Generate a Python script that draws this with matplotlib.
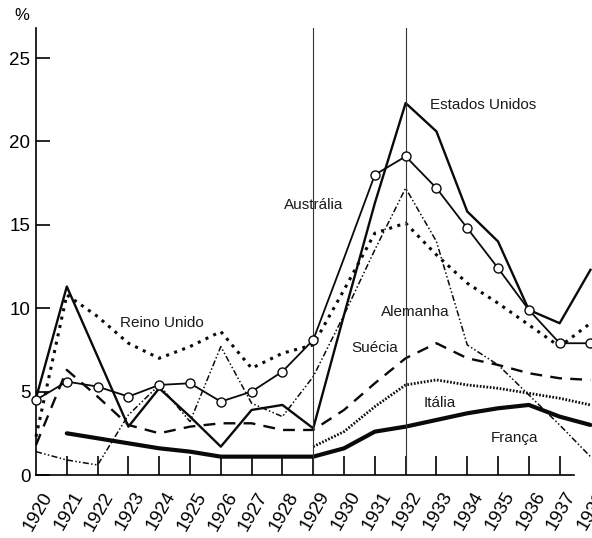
import numpy as np
import matplotlib
matplotlib.use("Agg")
import matplotlib.pyplot as plt
import matplotlib.transforms as mtransforms

# dados (% de desemprego)
anos = list(range(1920, 1939))
estados_unidos = [4.6, 11.3, 7.1, 2.9, 5.2, 3.5, 1.7, 3.9, 4.2, 2.8,
                  9.6, 16.3, 22.3, 20.6, 15.8, 14.0, 9.9, 9.1, 12.3]
australia = [4.5, 5.6, 5.3, 4.7, 5.4, 5.5, 4.4, 5.0, 6.2, 8.1,
             13.0, 18.0, 19.1, 17.2, 14.8, 12.4, 9.9, 7.9, 7.9]
reino_unido = [2.3, 10.8, 9.5, 7.9, 7.0, 7.7, 8.6, 6.4, 7.3, 7.8,
               11.1, 14.5, 15.1, 13.2, 11.5, 10.3, 9.0, 7.7, 9.1]
alemanha = [1.4, 0.9, 0.6, 3.6, 5.4, 3.2, 7.7, 4.3, 3.5, 5.9,
            9.6, 13.5, 17.2, 14.0, 7.8, 6.6, 4.8, 3.0, 1.1]
suecia = [1.8, 6.3, 4.7, 3.0, 2.5, 2.9, 3.1, 3.1, 2.7, 2.7,
          3.9, 5.5, 7.0, 7.9, 7.0, 6.6, 6.1, 5.8, 5.7]
italia = [np.nan] * 9 + [1.7, 2.6, 4.1, 5.4, 5.7, 5.4, 5.2, 4.9, 4.6, 4.2]
franca = [np.nan, 2.5, 2.2, 1.9, 1.6, 1.4, 1.1, 1.1, 1.1, 1.1,
          1.6, 2.6, 2.9, 3.3, 3.7, 4.0, 4.2, 3.5, 3.0]

rotulos = [("Estados Unidos", 1934.5, 22.2), ("Austrália", 1929.0, 16.2),
           ("Reino Unido", 1924.1, 9.1), ("Alemanha", 1932.3, 9.8),
           ("Suécia", 1931.0, 7.6), ("Itália", 1933.1, 4.3),
           ("França", 1935.55, 2.2)]

plt.rcParams['font.family'] = ['Liberation Sans', 'DejaVu Sans']

fig = plt.figure(figsize=(5.92, 5.38), dpi=100)
ax = fig.add_axes([36 / 592, 63 / 538, 556 / 592, 447 / 538])
ax.set_xlim(1920, 1938.05)
ax.set_ylim(0, 26.8)

cor = "#0a0a0a"
ax.plot(anos, estados_unidos, color=cor, lw=1.7, clip_on=False)
ax.plot(anos, australia, color=cor, lw=1.3, marker="o", ms=6.5,
        mfc="white", mec=cor, mew=1.0,
        markevery=[i for i in range(len(anos)) if i != 10], clip_on=False, zorder=4)
ax.plot(anos, reino_unido, color=cor, lw=2.2, ls=(0, (1.0, 1.8)), clip_on=False)
ax.plot(anos, alemanha, color=cor, lw=1.1, ls=(0, (4, 1.5, 1, 1.5, 1, 1.5)), clip_on=False)
ax.plot(anos, suecia, color=cor, lw=1.7, ls=(0, (5, 3.5)), clip_on=False)
ax.plot(anos, italia, color=cor, lw=2.0, ls=(0, (0.6, 0.6)), clip_on=False)
ax.plot(anos, franca, color=cor, lw=3.0, solid_capstyle="round", clip_on=False)

# linhas verticais 1929 e 1932
for a in (1929, 1932):
    ax.axvline(a, color="#333333", lw=0.8)

for texto, x, y in rotulos:
    ax.text(x, y, texto, fontsize=11, ha="center", va="center", color="#1a1a1a")

for s in ("top", "right"):
    ax.spines[s].set_visible(False)
ax.spines["left"].set_linewidth(1.2)
ax.spines["bottom"].set_linewidth(1.2)
ax.spines["bottom"].set_bounds(1920, 1937.45)

ax.set_yticks([0, 5, 10, 15, 20, 25])
ax.set_xticks(anos)
ax.tick_params(axis="y", direction="in", length=10, width=1.2, pad=4, labelsize=13.5)
ax.tick_params(axis="x", direction="in", length=14, width=1.2, pad=10, labelsize=13.5)
ax.set_xticklabels([str(a) for a in anos], rotation=60, ha="right",
                   va="top", rotation_mode="anchor")
# sem tracos em 1920 e 1938
for t, a in zip(ax.xaxis.get_major_ticks(), anos):
    if a in (1920, 1938):
        t.tick1line.set_visible(False)

offset = mtransforms.ScaledTranslation(5 / 100, 0, fig.dpi_scale_trans)
for lab in ax.get_xticklabels():
    lab.set_transform(lab.get_transform() + offset)

fig.text(22 / 592, 1 - 15 / 538, "%", fontsize=12, ha="center", va="center")

fig.savefig("out.png", dpi=100)
